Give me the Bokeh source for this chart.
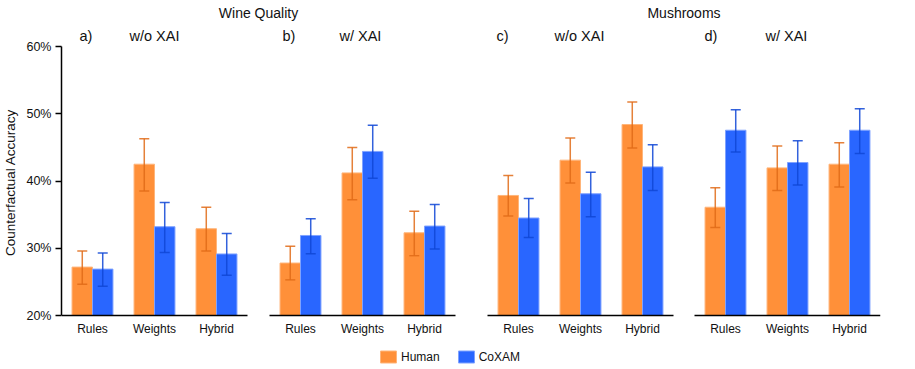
from bokeh.plotting import figure
from bokeh.models import (ColumnDataSource, Range1d, FixedTicker, LinearAxis,
                          Whisker, TeeHead, Legend, LegendItem)
from bokeh.transform import dodge
from bokeh.core.properties import value
from bokeh.embed import file_html
from bokeh.resources import INLINE

# ---------------- data ----------------
categories = ["Rules", "Weights", "Hybrid"]
datasets = ["Wine Quality", "Mushrooms"]
panel_letters = ["a)", "b)", "c)", "d)"]
panel_conditions = ["w/o XAI", "w/ XAI", "w/o XAI", "w/ XAI"]
series_names = ["Human", "CoXAM"]

human_mean = [[27.2, 42.5, 32.9], [27.8, 41.2, 32.3], [37.85, 43.1, 48.4], [36.1, 41.95, 42.5]]
human_lo = [[24.65, 38.5, 29.6], [25.3, 37.2, 28.9], [34.8, 39.7, 44.9], [33.1, 38.6, 39.1]]
human_hi = [[29.6, 46.3, 36.1], [30.3, 45.0, 35.5], [40.8, 46.4, 51.75], [39.0, 45.2, 45.7]]

coxam_mean = [[26.9, 33.2, 29.15], [31.9, 44.4, 33.3], [34.5, 38.1, 42.1], [47.55, 42.75, 47.55]]
coxam_lo = [[24.35, 29.35, 26.0], [29.2, 40.4, 29.9], [31.6, 34.7, 38.6], [44.3, 39.4, 44.1]]
coxam_hi = [[29.3, 36.8, 32.2], [34.4, 48.3, 36.5], [37.4, 41.3, 45.4], [50.6, 46.0, 50.75]]

y_ticks = [20, 30, 40, 50, 60]
y_tick_labels = ["20%", "30%", "40%", "50%", "60%"]
y_label = "Counterfactual Accuracy"

# ---------------- style / layout ----------------
FONT = "Liberation Sans"
TXT = "#111111"
ORANGE = "#FF9039"
ORANGE_EDGE = "#FFB57A"
ORANGE_ERR = "#E06B18"
BLUE = "#2966FF"
BLUE_EDGE = "#7FA2FF"
BLUE_ERR = "#0F47D6"

CAT_PX = 62.0                      # pixels per category slot
gap_px = [22, 32, 21]              # gaps between the four panels
PXU = 269.0 / 40.0                 # pixels per percentage point
TOP_PX = 46                        # frame space above 60%
BOT_PX = 49                        # frame space below 20%
BAR_W = 0.33
OFF = 0.165
letter_px = [18, 13, 9, 10]
cond_px = [68, 70, 67, 71]
LABEL_RISE_PX = 11
TITLE_RISE_PX = 33.5

ncat = len(categories)
panel_start = [0.0]
for g in gap_px:
    panel_start.append(panel_start[-1] + ncat + g / CAT_PX)
x_total = panel_start[-1] + ncat
frame_w = int(round(x_total * CAT_PX))
frame_h = int(round(40 * PXU)) + TOP_PX + BOT_PX

centers, cat_names = [], []
for s in panel_start:
    for j, c in enumerate(categories):
        centers.append(round(s + j + 0.5, 4))
        cat_names.append(c)

def flat(v):
    return [x for row in v for x in row]

src = ColumnDataSource(dict(x=centers,
                            h=flat(human_mean), hlo=flat(human_lo), hhi=flat(human_hi),
                            c=flat(coxam_mean), clo=flat(coxam_lo), chi=flat(coxam_hi)))

p = figure(x_range=Range1d(0, x_total),
           y_range=Range1d(20 - BOT_PX / PXU, 60 + TOP_PX / PXU),
           frame_width=frame_w, frame_height=frame_h,
           min_border_left=54, min_border_right=5, min_border_top=0, min_border_bottom=0,
           x_axis_location=None, y_axis_location="left",
           toolbar_location=None, output_backend="svg")
p.outline_line_color = None
p.grid.visible = False

rh = p.vbar(x=dodge("x", -OFF), top="h", bottom=20, width=BAR_W, source=src,
            fill_color=ORANGE, line_color=ORANGE_EDGE, line_width=1)
rc = p.vbar(x=dodge("x", OFF), top="c", bottom=20, width=BAR_W, source=src,
            fill_color=BLUE, line_color=BLUE_EDGE, line_width=1)
for off, lo, hi, col in [(-OFF, "hlo", "hhi", ORANGE_ERR), (OFF, "clo", "chi", BLUE_ERR)]:
    p.add_layout(Whisker(base=dodge("x", off), lower=lo, upper=hi, source=src, level="overlay",
                         line_color=col, line_width=1.5, line_alpha=0.85,
                         upper_head=TeeHead(size=10, line_color=col, line_width=1.5, line_alpha=0.85),
                         lower_head=TeeHead(size=10, line_color=col, line_width=1.5, line_alpha=0.85)))

# per-panel baselines (x axis lines)
bsrc = ColumnDataSource(dict(s=panel_start, e=[s + ncat for s in panel_start], y=[20] * 4))
p.segment(x0="s", x1="e", y0="y", y1="y", source=bsrc, line_color="black", line_width=1.5)

# panel labels
lsrc = ColumnDataSource(dict(lx=[s + v / CAT_PX for s, v in zip(panel_start, letter_px)],
                             cx=[s + v / CAT_PX for s, v in zip(panel_start, cond_px)],
                             y=[60 + LABEL_RISE_PX / PXU] * 4, t=panel_letters, c=panel_conditions))
p.text(x="lx", y="y", text="t", source=lsrc, text_font=value(FONT), text_font_size="14.5px",
       text_color=TXT, text_align="left", text_baseline="alphabetic")
p.text(x="cx", y="y", text="c", source=lsrc, text_font=value(FONT), text_font_size="14.5px",
       text_color=TXT, text_align="left", text_baseline="alphabetic")

# dataset titles, centred over each pair of panels
tsrc = ColumnDataSource(dict(x=[(panel_start[0] + panel_start[1] + ncat) / 2,
                                (panel_start[2] + panel_start[3] + ncat) / 2],
                             y=[60 + TITLE_RISE_PX / PXU] * 2, t=datasets))
p.text(x="x", y="y", text="t", source=tsrc, text_font=value(FONT), text_font_size="14px",
       text_color=TXT, text_align="center", text_baseline="alphabetic")

# x axis (category labels) inside the frame at 20%
xa = LinearAxis(fixed_location=20, ticker=FixedTicker(ticks=centers),
                major_label_overrides={c: n for c, n in zip(centers, cat_names)})
xa.axis_line_color = None
xa.major_tick_line_color = None
xa.major_tick_out = 0
xa.major_tick_in = 0
xa.minor_tick_line_color = None
xa.major_label_standoff = 6
xa.major_label_text_font = FONT
xa.major_label_text_font_size = "12px"
xa.major_label_text_color = TXT
p.add_layout(xa, "below")

ya = p.yaxis[0]
ya.bounds = (20, 60)
ya.ticker = FixedTicker(ticks=y_ticks)
ya.major_label_overrides = {t: l for t, l in zip(y_ticks, y_tick_labels)}
ya.axis_line_color = "black"
ya.axis_line_width = 1.5
ya.major_tick_out = 6
ya.major_tick_in = 0
ya.major_tick_line_width = 1.3
ya.minor_tick_line_color = None
ya.major_label_standoff = 4
ya.major_label_text_font = FONT
ya.major_label_text_font_size = "12.5px"
ya.major_label_text_color = TXT
ya.axis_label = y_label
ya.axis_label_text_font = FONT
ya.axis_label_text_font_size = "13.5px"
ya.axis_label_text_font_style = "normal"
ya.axis_label_text_color = TXT
ya.axis_label_standoff = 5

legend = Legend(items=[LegendItem(label=series_names[0], renderers=[rh]),
                       LegendItem(label=series_names[1], renderers=[rc])],
                orientation="horizontal", location=(317, 0),
                glyph_width=20, glyph_height=15, label_height=15, label_standoff=3,
                spacing=16, padding=0, margin=0, border_line_color=None,
                background_fill_alpha=0, label_text_font=FONT, label_text_font_size="12px",
                label_text_color=TXT)
p.add_layout(legend)

open("out.html", "w").write(file_html(p, INLINE))
